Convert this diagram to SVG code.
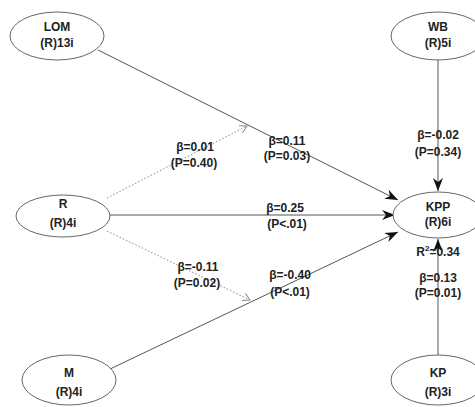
<svg xmlns="http://www.w3.org/2000/svg" width="475" height="407" viewBox="0 0 475 407">
<style>
.n{fill:#fff;stroke:#666;stroke-width:1}
text{font-family:"Liberation Sans",Arial,sans-serif;font-size:12px;font-weight:bold;fill:#222;text-anchor:middle}
.l{stroke:#555;stroke-width:1;fill:none}
.d{stroke:#888;stroke-width:1;fill:none;stroke-dasharray:1.5 2}
</style>
<defs>
<marker id="a" markerUnits="userSpaceOnUse" markerWidth="14" markerHeight="12" refX="13" refY="5" orient="auto">
<path d="M0,0 L13,5 L0,10 L4,5 z" fill="#111"/>
</marker>
<marker id="o" markerUnits="userSpaceOnUse" markerWidth="10" markerHeight="10" refX="7" refY="4" orient="auto">
<path d="M0,0 L7,4 L0,8" fill="none" stroke="#888" stroke-width="1"/>
</marker>
</defs>
<rect width="475" height="407" fill="#fff"/>
<g id="connectors">
<line class="l" x1="98" y1="50" x2="398" y2="200" marker-end="url(#a)"/>
<line class="l" x1="110" y1="215" x2="395" y2="215" marker-end="url(#a)"/>
<line class="l" x1="110" y1="369" x2="398" y2="232" marker-end="url(#a)"/>
<line class="l" x1="438" y1="60" x2="438" y2="191" marker-end="url(#a)"/>
<line class="l" x1="438" y1="355" x2="438" y2="239" marker-end="url(#a)"/>
<line class="d" x1="107" y1="198" x2="247" y2="126" marker-end="url(#o)"/>
<line class="d" x1="107" y1="231" x2="250" y2="300" marker-end="url(#o)"/>
</g>
<g id="labels">
<text x="195" y="151">β=0.01</text>
<text x="194" y="167">(P=0.40)</text>
<text x="287" y="145">β=0.11</text>
<text x="287" y="160">(P=0.03)</text>
<text x="285" y="212">β=0.25</text>
<text x="287" y="228">(P&lt;.01)</text>
<text x="198" y="271">β=-0.11</text>
<text x="197" y="287">(P=0.02)</text>
<text x="290" y="279">β=-0.40</text>
<text x="290" y="296">(P&lt;.01)</text>
<text x="438" y="139">β=-0.02</text>
<text x="438" y="156">(P=0.34)</text>
<text x="438" y="282">β=0.13</text>
<text x="438" y="297">(P=0.01)</text>
</g>
<g id="LOM"><ellipse class="n" cx="57" cy="36" rx="47" ry="24"/><text x="57" y="31">LOM</text><text x="57" y="47">(R)13i</text></g>
<g id="WB"><ellipse class="n" cx="438" cy="36" rx="47" ry="24"/><text x="438" y="31">WB</text><text x="438" y="47">(R)5i</text></g>
<g id="R"><ellipse class="n" cx="63" cy="216" rx="47" ry="21"/><text x="63" y="208">R</text><text x="63" y="227">(R)4i</text></g>
<g id="KPP"><ellipse class="n" cx="438" cy="215" rx="45" ry="23"/><text x="438" y="211">KPP</text><text x="438" y="226">(R)6i</text><text x="438" y="256">R<tspan font-size="8" dy="-5">2</tspan><tspan dy="5">=0.34</tspan></text></g>
<g id="M"><ellipse class="n" cx="69" cy="380" rx="47" ry="25"/><text x="69" y="377">M</text><text x="69" y="396">(R)4i</text></g>
<g id="KP"><ellipse class="n" cx="438" cy="380" rx="47" ry="25"/><text x="438" y="377">KP</text><text x="438" y="396">(R)3i</text></g>
</svg>
